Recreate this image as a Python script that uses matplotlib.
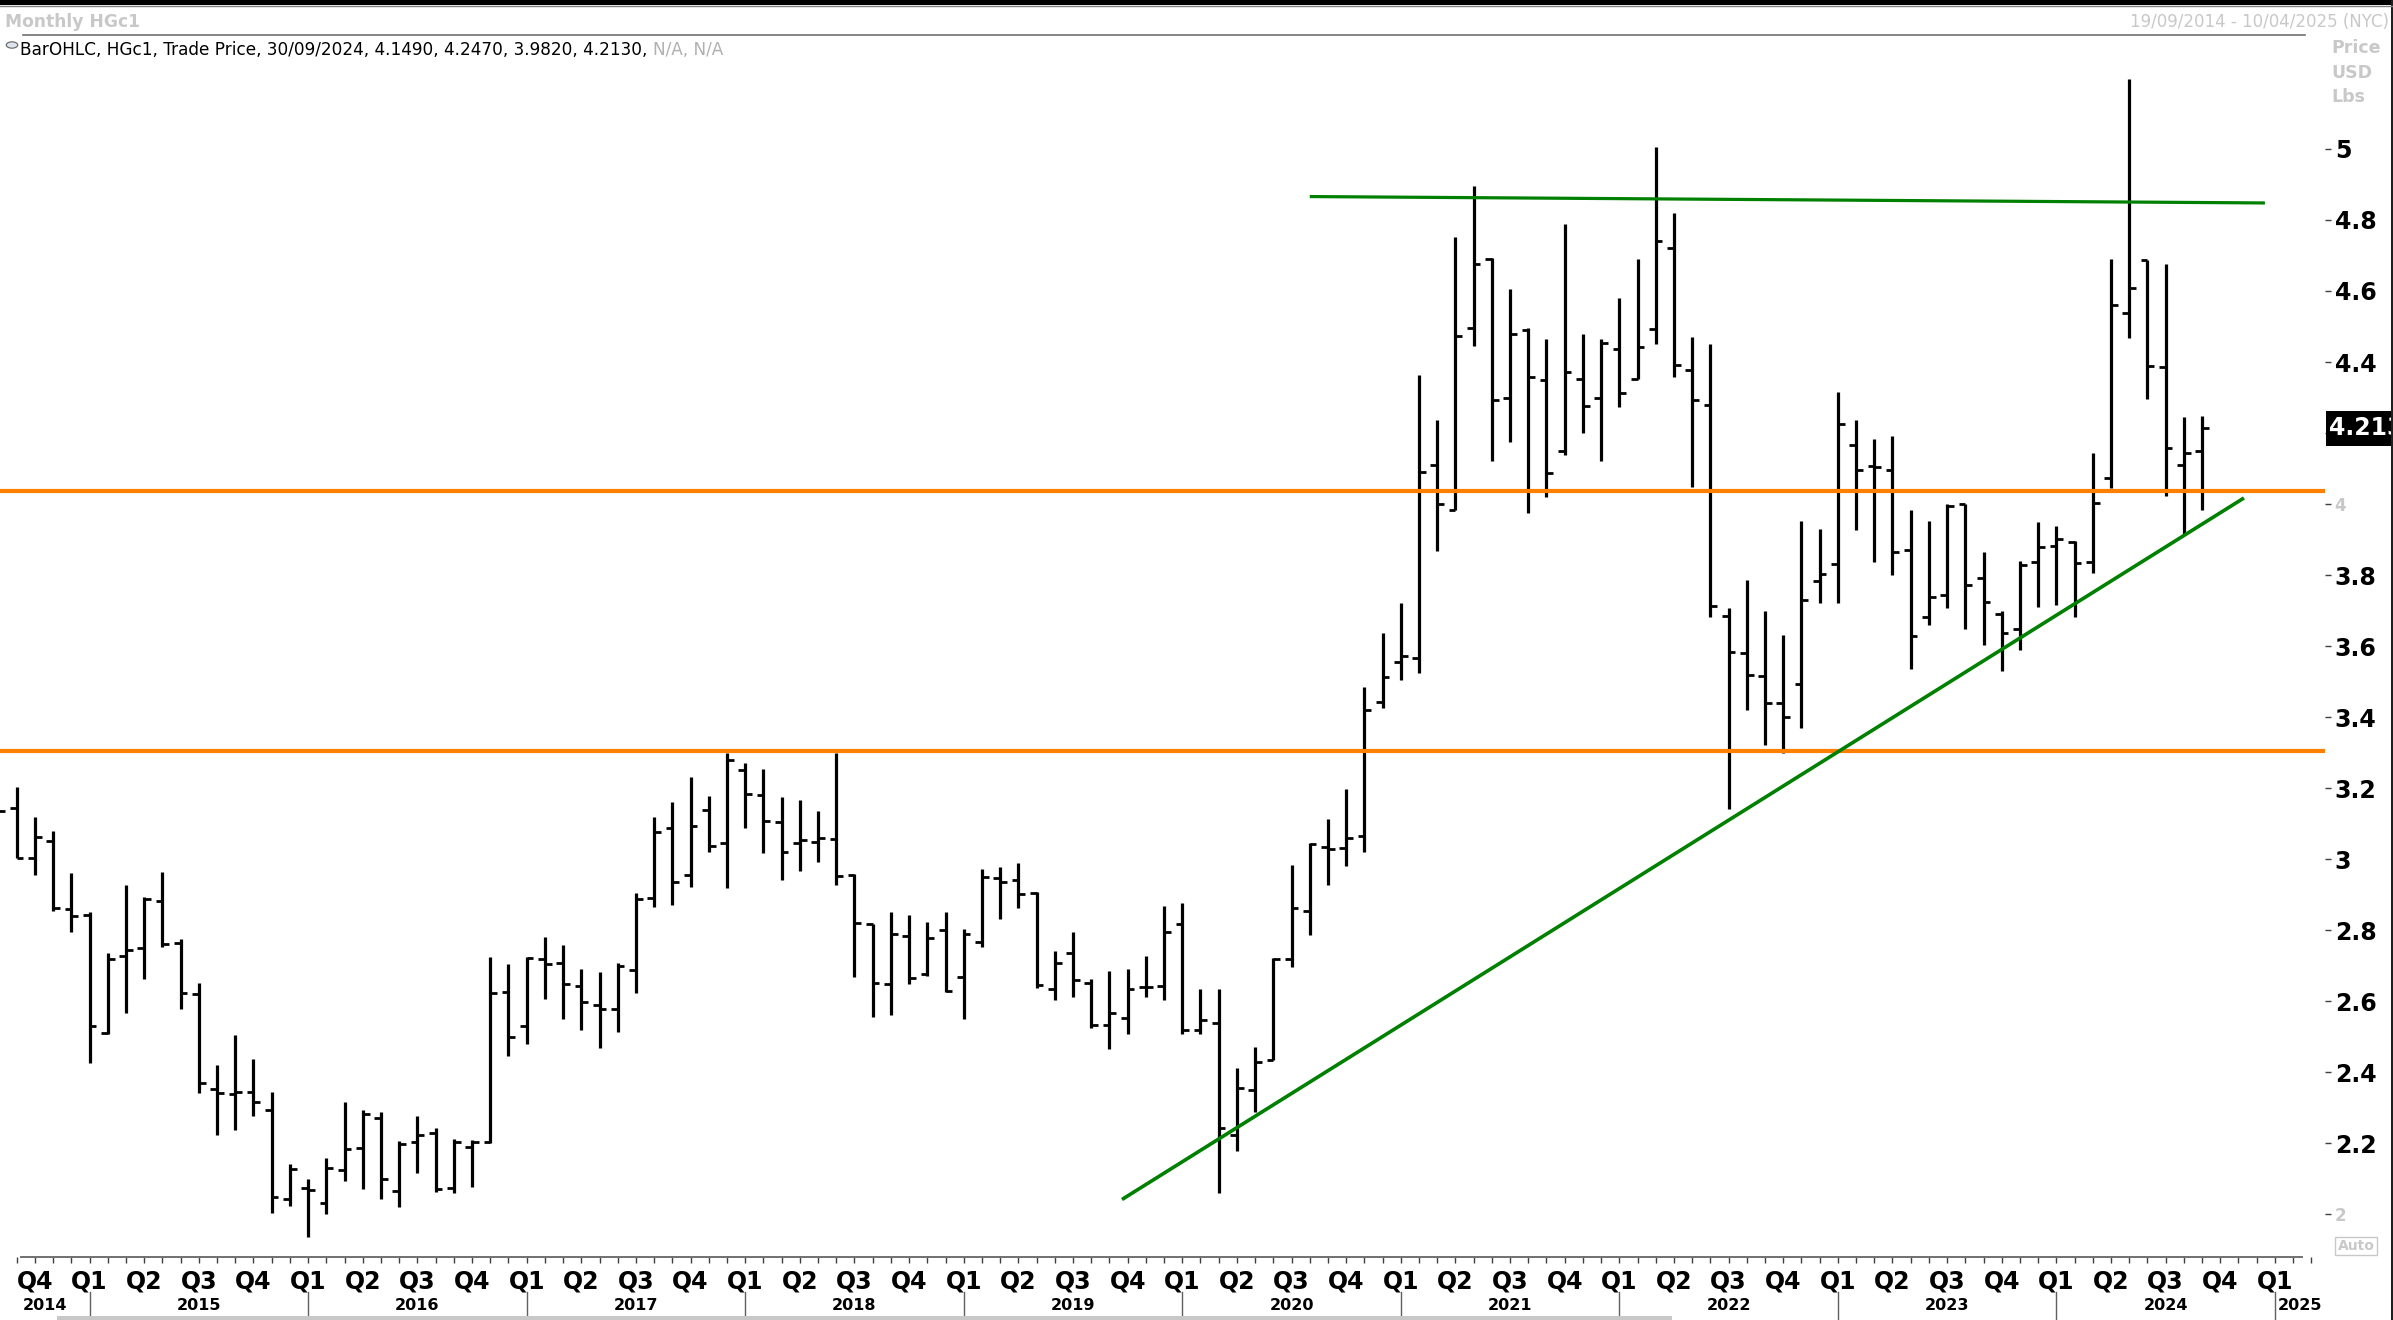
import numpy as np
import pandas as pd
import matplotlib
matplotlib.use("Agg")
import matplotlib.pyplot as plt
from matplotlib.transforms import blended_transform_factory
from matplotlib.lines import Line2D
from matplotlib.patches import Rectangle, Circle

# ---------------- data (monthly HGc1 OHLC, Aug 2014 .. Sep 2024) ----------------
first_month = "2014-08"
opens = [3.200, 3.145, 3.002, 3.051, 2.858,
         2.843, 2.511, 2.728, 2.748, 2.883, 2.763, 2.621, 2.352, 2.337, 2.343, 2.293, 2.043,
         2.072, 2.030, 2.124, 2.185, 2.271, 2.066, 2.202, 2.227, 2.072, 2.188, 2.204, 2.626,
         2.530, 2.718, 2.706, 2.642, 2.589, 2.577, 2.687, 2.889, 3.086, 2.955, 3.138, 3.044,
         3.250, 3.179, 3.103, 3.044, 3.047, 3.055, 2.955, 2.816, 2.648, 2.783, 2.675, 2.800,
         2.667, 2.765, 2.946, 2.940, 2.904, 2.635, 2.736, 2.650, 2.533, 2.552, 2.639, 2.641,
         2.816, 2.519, 2.537, 2.223, 2.349, 2.434, 2.718, 2.855, 3.033, 3.030, 3.064, 3.442,
         3.556, 3.566, 4.111, 3.983, 4.496, 4.691, 4.298, 4.491, 4.349, 4.148, 4.351, 4.299,
         4.438, 4.351, 4.493, 4.720, 4.378, 4.279, 3.685, 3.580, 3.516, 3.440, 3.493, 3.783,
         3.831, 4.166, 4.106, 4.096, 3.871, 3.681, 3.744, 4.000, 3.791, 3.689, 3.648, 3.837,
         3.881, 3.893, 3.837, 4.074, 4.537, 4.686, 4.386, 4.109, 4.149]
highs = [3.260, 3.202, 3.119, 3.080, 2.961,
         2.850, 2.734, 2.926, 2.892, 2.964, 2.775, 2.651, 2.419, 2.503, 2.438, 2.345, 2.142,
         2.099, 2.159, 2.317, 2.294, 2.287, 2.207, 2.277, 2.243, 2.212, 2.209, 2.725, 2.703,
         2.723, 2.779, 2.757, 2.689, 2.683, 2.708, 2.903, 3.117, 3.160, 3.230, 3.177, 3.298,
         3.270, 3.253, 3.174, 3.166, 3.134, 3.298, 2.959, 2.818, 2.850, 2.841, 2.823, 2.851,
         2.802, 2.973, 2.977, 2.990, 2.906, 2.742, 2.795, 2.662, 2.686, 2.689, 2.727, 2.867,
         2.876, 2.633, 2.633, 2.410, 2.470, 2.722, 2.983, 3.045, 3.113, 3.196, 3.485, 3.636,
         3.720, 4.363, 4.236, 4.753, 4.897, 4.694, 4.606, 4.497, 4.465, 4.790, 4.478, 4.464,
         4.579, 4.689, 5.007, 4.820, 4.470, 4.450, 3.706, 3.786, 3.699, 3.630, 3.952, 3.929,
         4.315, 4.236, 4.183, 4.191, 3.982, 3.952, 4.000, 4.000, 3.864, 3.700, 3.840, 3.948,
         3.937, 3.896, 4.145, 4.690, 5.197, 4.688, 4.677, 4.244, 4.247]
lows = [3.100, 3.002, 2.955, 2.853, 2.795,
        2.426, 2.507, 2.567, 2.663, 2.751, 2.578, 2.340, 2.223, 2.238, 2.277, 2.002, 2.024,
        1.934, 1.999, 2.092, 2.070, 2.041, 2.019, 2.115, 2.062, 2.058, 2.077, 2.201, 2.446,
        2.478, 2.605, 2.548, 2.517, 2.467, 2.514, 2.622, 2.864, 2.871, 2.922, 3.021, 2.917,
        3.086, 3.018, 2.942, 2.967, 2.993, 2.926, 2.667, 2.554, 2.562, 2.649, 2.671, 2.625,
        2.548, 2.753, 2.830, 2.861, 2.637, 2.604, 2.611, 2.525, 2.464, 2.507, 2.611, 2.602,
        2.507, 2.507, 2.058, 2.178, 2.287, 2.434, 2.696, 2.785, 2.926, 2.980, 3.020, 3.426,
        3.504, 3.523, 3.869, 3.983, 4.446, 4.122, 4.174, 3.975, 4.019, 4.138, 4.199, 4.122,
        4.272, 4.351, 4.452, 4.359, 4.049, 3.681, 3.140, 3.420, 3.320, 3.300, 3.370, 3.721,
        3.722, 3.928, 3.836, 3.799, 3.535, 3.658, 3.706, 3.647, 3.603, 3.530, 3.590, 3.709,
        3.716, 3.681, 3.805, 4.044, 4.468, 4.297, 4.023, 3.912, 3.982]
closes = [3.135, 3.004, 3.061, 2.861, 2.839,
          2.529, 2.718, 2.745, 2.886, 2.760, 2.623, 2.368, 2.340, 2.345, 2.315, 2.047, 2.126,
          2.067, 2.129, 2.182, 2.282, 2.098, 2.196, 2.222, 2.070, 2.202, 2.202, 2.622, 2.498,
          2.720, 2.703, 2.647, 2.597, 2.577, 2.699, 2.886, 3.077, 2.936, 3.092, 3.036, 3.278,
          3.182, 3.106, 3.019, 3.054, 3.059, 2.951, 2.819, 2.650, 2.788, 2.665, 2.777, 2.627,
          2.788, 2.948, 2.936, 2.901, 2.645, 2.706, 2.659, 2.532, 2.567, 2.633, 2.639, 2.794,
          2.519, 2.547, 2.242, 2.354, 2.429, 2.718, 2.861, 3.042, 3.029, 3.060, 3.420, 3.513,
          3.571, 4.091, 4.001, 4.474, 4.677, 4.293, 4.479, 4.358, 4.086, 4.373, 4.275, 4.453,
          4.314, 4.443, 4.742, 4.392, 4.293, 3.713, 3.582, 3.519, 3.440, 3.400, 3.730, 3.802,
          4.225, 4.096, 4.103, 3.866, 3.629, 3.739, 3.993, 3.771, 3.723, 3.638, 3.827, 3.878,
          3.901, 3.835, 4.002, 4.560, 4.608, 4.389, 4.158, 4.144, 4.213]

# horizontal levels and trend lines (month index relative to Jan 2015, price)
orange_levels = [4.037, 3.304]
resistance_x = [67.0, 119.45]
resistance_y = [4.866, 4.848]
trend_x = [56.69, 118.3]
trend_y = [2.041, 4.017]

y_ticks = [2.0, 2.2, 2.4, 2.6, 2.8, 3.0, 3.2, 3.4, 3.6, 3.8, 4.0, 4.2, 4.4, 4.6, 4.8, 5.0]
y_tick_labels = ["2", "2.2", "2.4", "2.6", "2.8", "3", "3.2", "3.4", "3.6", "3.8",
                 "4", "", "4.4", "4.6", "4.8", "5"]
header_values = "BarOHLC, HGc1, Trade Price, 30/09/2024, 4.1490, 4.2470, 3.9820, 4.2130, "

# ---------------- figure ----------------
W, H = 2393, 1320
fig = plt.figure(figsize=(W / 100, H / 100), dpi=100)
fig.patch.set_facecolor("white")


def fx(p):
    return p / W


def fy(p):
    return 1 - p / H


ax = fig.add_axes([0, fy(1257), fx(2325), fy(40) - fy(1257)])
ax.set_xlim(-4.92, 122.75)
ax.set_ylim(1.879, 5.307)
for s in ax.spines.values():
    s.set_visible(False)
ax.spines["bottom"].set_visible(True)
ax.spines["bottom"].set_color("#707070")
ax.spines["bottom"].set_linewidth(1.4)
ax.spines["bottom"].set_bounds(-3.75, 121.5)

periods = pd.period_range(first_month, periods=len(closes), freq="M")
xi = np.array([(p.year - 2015) * 12 + p.month - 1 for p in periods], dtype=float)

hw = 0.37
ax.vlines(xi, lows, highs, color="black", lw=2.3, zorder=3)
ax.hlines(opens, xi - hw, xi, color="black", lw=2.0, zorder=3)
ax.hlines(closes, xi, xi + hw, color="black", lw=2.0, zorder=3)

for lv in orange_levels:
    ax.axhline(lv, color="#FF8000", lw=3.0, zorder=4)
ax.plot(resistance_x, resistance_y, color="#008000", lw=2.3, zorder=4, solid_capstyle="butt")
ax.plot(trend_x, trend_y, color="#008000", lw=2.6, zorder=4, solid_capstyle="butt")

# y axis on the right
ax.yaxis.tick_right()
ax.set_yticks(y_ticks)
ax.set_yticklabels(y_tick_labels)
ax.tick_params(axis="y", direction="out", length=4, width=1, color="#404040",
               pad=3, labelsize=17)
for lab, v in zip(ax.get_yticklabels(), y_ticks):
    if abs(v - 4.0) < 1e-9 or abs(v - 2.0) < 1e-9:
        lab.set_color("#c8c8c8")
        lab.set_fontsize(12)
        lab.set_fontweight("bold")
    else:
        lab.set_fontweight("bold")
        lab.set_color("black")

# x axis: monthly minor ticks
ax.set_xticks(np.arange(-4, 123), minor=True)
ax.set_xticks([])
ax.tick_params(axis="x", which="minor", direction="out", length=4, width=1,
               color="#404040", labelbottom=False)

bt = blended_transform_factory(ax.transData, fig.transFigure)
q_months = np.arange(-3, 121, 3)
for q in q_months:
    qn = ((int(q) % 12) // 3) + 1
    ax.text(q, fy(1281), "Q%d" % qn, transform=bt, ha="center", va="center",
            fontsize=17, fontweight="bold", color="black", clip_on=False)

years = list(range(2014, 2026))
x_left, x_right = ax.get_xlim()
for yr in years:
    a = max((yr - 2015) * 12, x_left)
    b = min((yr - 2014) * 12, x_right)
    ax.text((a + b) / 2, fy(1305), str(yr), transform=bt, ha="center", va="center",
            fontsize=11.5, fontweight="bold", color="black", clip_on=False)
    if yr >= 2015:
        xb = (yr - 2015) * 12
        ax.add_line(Line2D([xb, xb], [fy(1292), fy(1320)], transform=bt,
                           color="#606060", lw=1.0, clip_on=False))

# current price box (value cut by the right edge as in the original)
last = closes[-1]
bty = blended_transform_factory(fig.transFigure, ax.transData)
ax.add_patch(Rectangle((fx(2326), last - 0.049), fx(2393) - fx(2326), 0.098,
                       transform=bty, facecolor="black", edgecolor="none",
                       clip_on=False, zorder=6))
ax.text(fx(2329), last, "%.3f" % last, transform=bty, ha="left", va="center",
        fontsize=17, fontweight="bold", color="white", clip_on=False, zorder=7)

# ---------------- frame / header ----------------
fig.add_artist(Rectangle((0, fy(5)), 1, fy(0) - fy(5), transform=fig.transFigure,
                         facecolor="black", edgecolor="none"))
fig.add_artist(Line2D([0, 1], [fy(5.5), fy(5.5)], transform=fig.transFigure,
                      color="#808080", lw=1))
fig.add_artist(Rectangle((fx(2391), 0), fx(2393) - fx(2391), 1, transform=fig.transFigure,
                         facecolor="#202020", edgecolor="none"))
fig.text(fx(5), fy(22), "Monthly HGc1", ha="left", va="center", fontsize=12.3,
         fontweight="bold", color="#c8c8c8")
fig.text(fx(2389), fy(22), "19/09/2014 - 10/04/2025 (NYC)", ha="right", va="center",
         fontsize=12, color="#c8c8c8")
fig.add_artist(Line2D([fx(23), fx(2305)], [fy(35), fy(35)], transform=fig.transFigure,
                      color="#707070", lw=1.2))
fig.add_artist(Circle((fx(12), fy(45)), 0.0024, transform=fig.transFigure,
                      facecolor="#dde4ee", edgecolor="#606060", lw=0.8))
t1 = fig.text(fx(20), fy(50), header_values, ha="left", va="center", fontsize=12.2,
              color="black")
fig.canvas.draw()
bb = t1.get_window_extent()
fig.text(bb.x1 / W, fy(50), "N/A, N/A", ha="left", va="center", fontsize=12.2,
         color="#b0b0b0")
for yy, s in zip([48, 73, 97], ["Price", "USD", "Lbs"]):
    fig.text(fx(2331), fy(yy), s, ha="left", va="center", fontsize=12.5,
             fontweight="bold", color="#c8c8c8")

# auto box and scrollbar
fig.text(fx(2356), fy(1246), "Auto", ha="center", va="center", fontsize=10,
         fontweight="bold", color="#c8c8c8",
         bbox=dict(boxstyle="square,pad=0.15", facecolor="white", edgecolor="#c8c8c8", lw=1))
fig.add_artist(Rectangle((fx(57), fy(1320)), fx(1672) - fx(57), fy(1316) - fy(1320),
                         transform=fig.transFigure, facecolor="#c8c8c8", edgecolor="none"))

fig.savefig("out.png", dpi=100)
